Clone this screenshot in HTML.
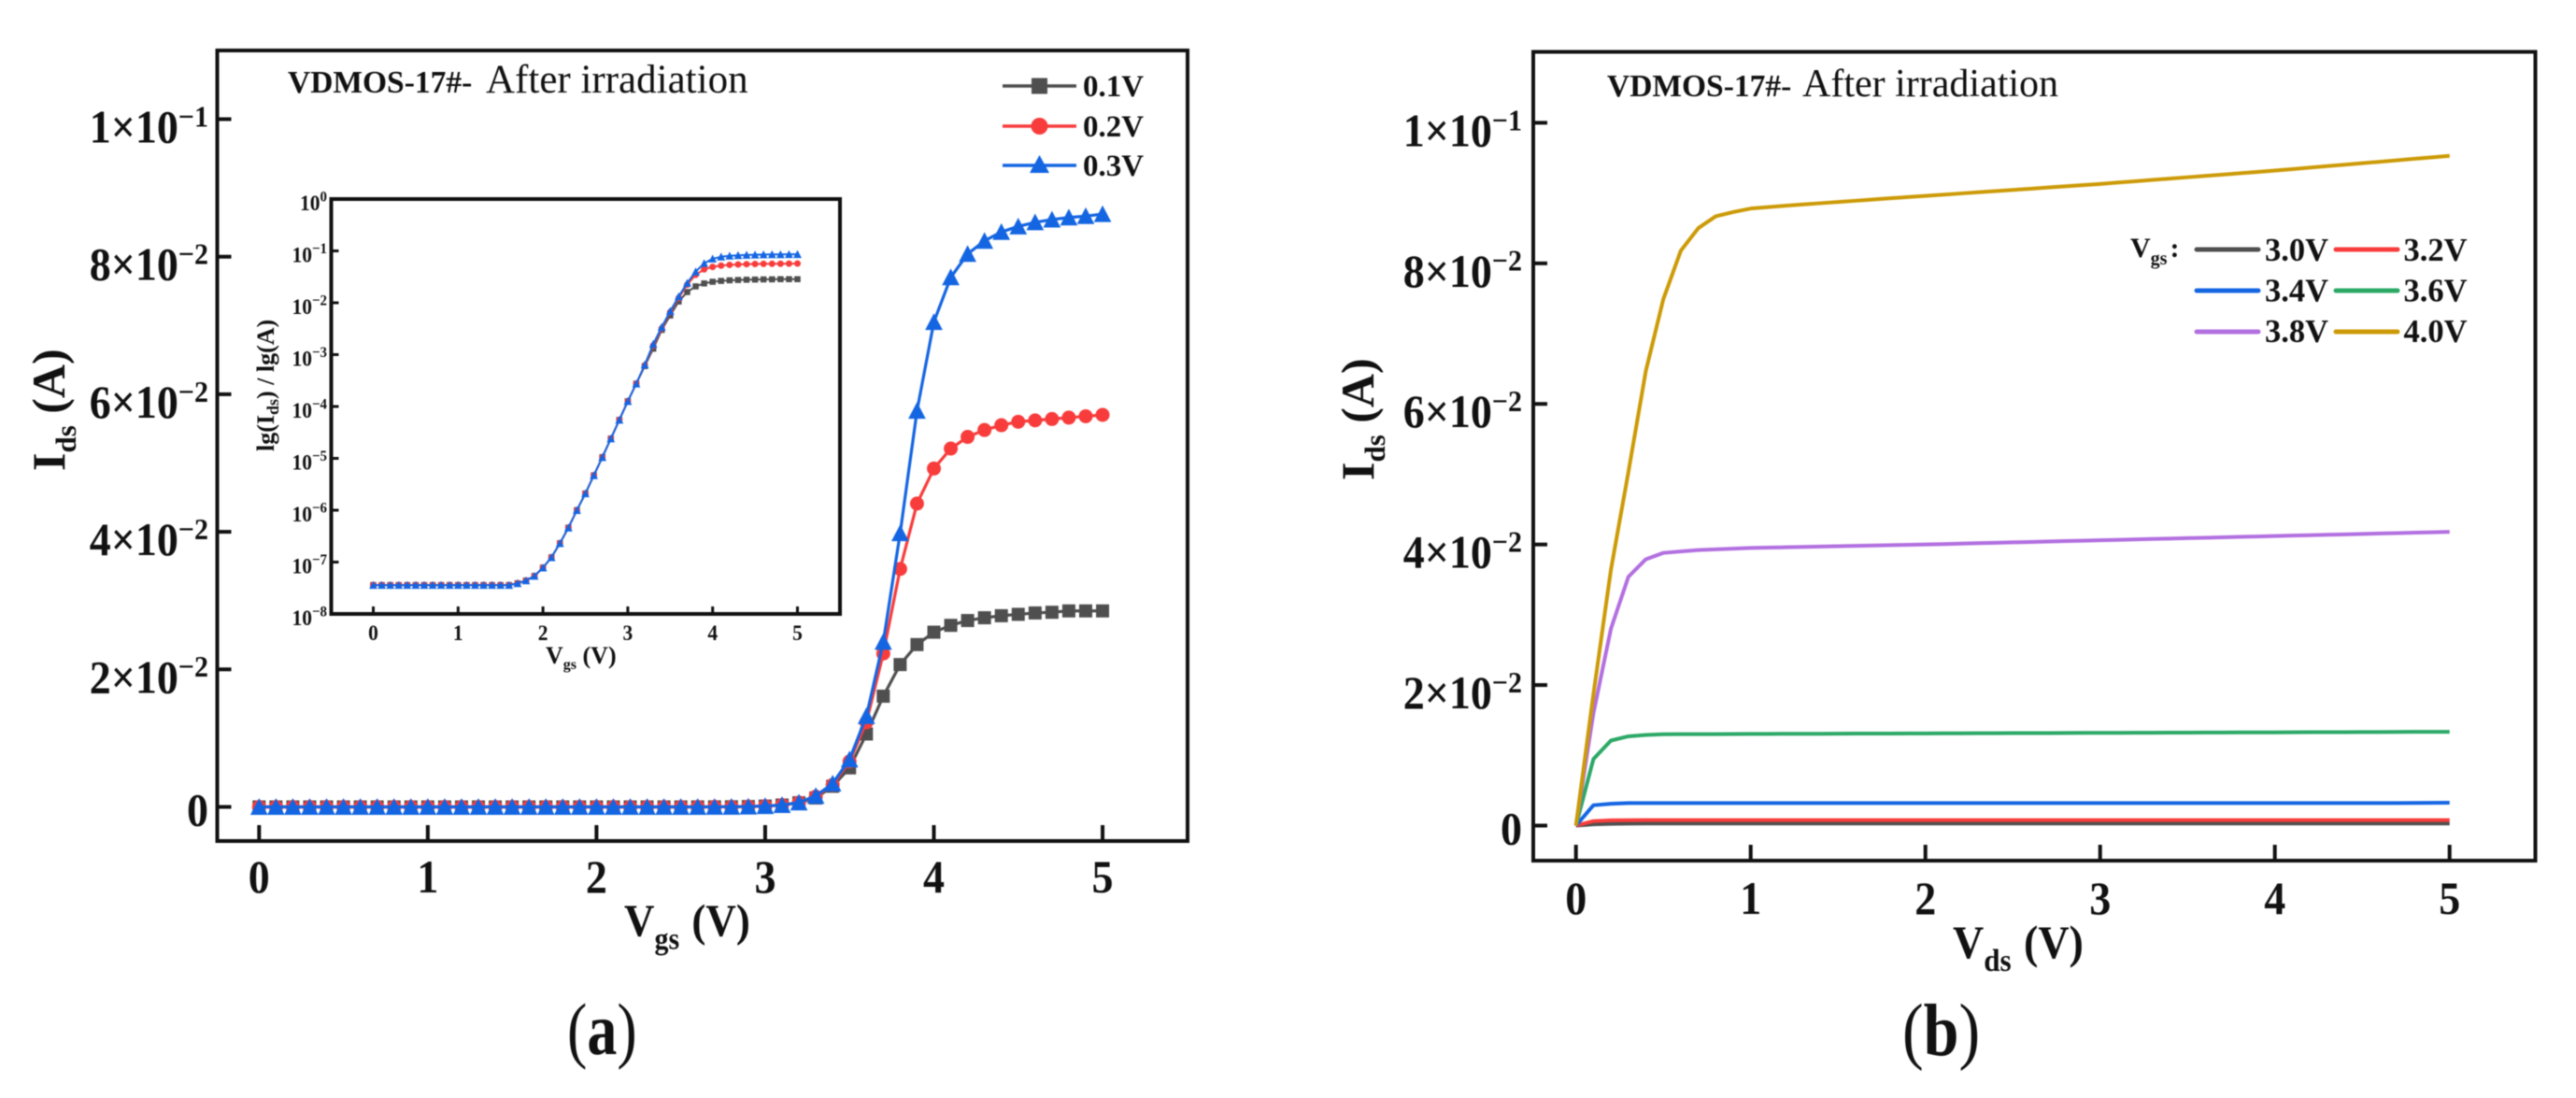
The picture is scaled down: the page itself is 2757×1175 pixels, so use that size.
<!DOCTYPE html>
<html lang="en">
<head>
<meta charset="utf-8">
<title>VDMOS-17# After irradiation</title>
<style>
html,body{margin:0;padding:0;background:#fff;width:2757px;height:1175px;overflow:hidden}
svg{display:block;filter:blur(0.6px)}
text{font-family:"Liberation Serif",serif;fill:#111}
.b{font-weight:bold}
</style>
</head>
<body>
<svg id="fig" xmlns="http://www.w3.org/2000/svg" width="2757" height="1175" viewBox="0 0 2757 1175">
  <rect x="0" y="0" width="2757" height="1175" fill="#fff"/>

  <g id="panelA">
    <rect x="232.5" y="54" width="1038.5" height="846" fill="none" stroke="#111" stroke-width="4"/>
    <text x="308" y="99"><tspan class="b" font-size="33.5">VDMOS-17#-</tspan><tspan x="520" font-size="43">After irradiation</tspan></text>
    <text class="b" transform="translate(668,1001.5) scale(1,1.08)" font-size="45">V<tspan font-size="30" dy="13">gs</tspan><tspan dy="-13" dx="2"> (V)</tspan></text>
    <text class="b" transform="translate(69,504) rotate(-90)" font-size="50">I<tspan font-size="31" dy="12">ds</tspan><tspan dy="-12"> (A)</tspan></text>
    <text transform="translate(607,1128) scale(1,1.22)" font-size="64">(<tspan class="b">a</tspan>)</text>
    <g id="axesA"></g>
    <g id="marksA"></g>
    <rect x="354.5" y="213" width="544.5" height="444" fill="#fff" stroke="#111" stroke-width="4"/>
    <g id="axesI"></g>
    <g id="marksI"></g>
    <text class="b" x="584" y="710" font-size="26">V<tspan font-size="16" dy="6">gs</tspan><tspan dy="-6"> (V)</tspan></text>
    <text class="b" transform="translate(293,483) rotate(-90)" font-size="26">lg(I<tspan font-size="18" dy="5">ds</tspan><tspan dy="-5">) / lg(A)</tspan></text>
    <g>
      <g>
        <line x1="1073" y1="92" x2="1152" y2="92" stroke="#4f4f4f" stroke-width="3.4"/>
        <rect x="1104" y="83.5" width="17" height="17" fill="#4f4f4f"/>
        <text class="b" x="1159" y="103" font-size="33">0.1V</text>
      </g>
      <g>
        <line x1="1073" y1="135" x2="1152" y2="135" stroke="#f83c3c" stroke-width="3.4"/>
        <circle cx="1112.5" cy="135" r="9" fill="#f83c3c"/>
        <text class="b" x="1159" y="146" font-size="33">0.2V</text>
      </g>
      <g>
        <line x1="1073" y1="177" x2="1152" y2="177" stroke="#1465e2" stroke-width="3.4"/>
        <polygon points="1112.5,166 1123,185 1102,185" fill="#1465e2"/>
        <text class="b" x="1159" y="188" font-size="33">0.3V</text>
      </g>
    </g>
  </g>

  <g id="panelB">
    <rect x="1641" y="55.5" width="1072.5" height="865.5" fill="none" stroke="#111" stroke-width="4"/>
    <text x="1720" y="103"><tspan class="b" font-size="33.5">VDMOS-17#-</tspan><tspan x="1929" font-size="42">After irradiation</tspan></text>
    <text class="b" transform="translate(2090,1025) scale(1,1.08)" font-size="46">V<tspan font-size="31" dy="13">ds</tspan><tspan dy="-13" dx="2"> (V)</tspan></text>
    <text class="b" transform="translate(1470,514) rotate(-90)" font-size="50">I<tspan font-size="31" dy="12">ds</tspan><tspan dy="-12"> (A)</tspan></text>
    <text transform="translate(2036,1129) scale(1,1.17)" font-size="68">(<tspan class="b">b</tspan>)</text>
    <g id="axesB"></g>
    <g id="marksB"></g>
    <g>
      <text class="b" x="2280" y="275" font-size="30">V<tspan font-size="20" dy="8">gs</tspan><tspan dy="-8" dx="3">:</tspan></text>
      <g><line x1="2351" y1="267" x2="2417" y2="267" stroke="#4f4f4f" stroke-width="5" stroke-linecap="round"/><text class="b" x="2424" y="279" font-size="34.5">3.0V</text></g>
      <g><line x1="2500" y1="267" x2="2566" y2="267" stroke="#f83c3c" stroke-width="5" stroke-linecap="round"/><text class="b" x="2572.5" y="279" font-size="34.5">3.2V</text></g>
      <g><line x1="2351" y1="311" x2="2417" y2="311" stroke="#1465e2" stroke-width="5" stroke-linecap="round"/><text class="b" x="2424" y="322.5" font-size="34.5">3.4V</text></g>
      <g><line x1="2500" y1="311" x2="2566" y2="311" stroke="#2ba866" stroke-width="5" stroke-linecap="round"/><text class="b" x="2572.5" y="322.5" font-size="34.5">3.6V</text></g>
      <g><line x1="2351" y1="355" x2="2417" y2="355" stroke="#b26fe0" stroke-width="5" stroke-linecap="round"/><text class="b" x="2424" y="366" font-size="34.5">3.8V</text></g>
      <g><line x1="2500" y1="355" x2="2566" y2="355" stroke="#cc9a06" stroke-width="5" stroke-linecap="round"/><text class="b" x="2572.5" y="366" font-size="34.5">4.0V</text></g>
    </g>
  </g>
</svg>

<script>
// ---------- Shared sweep (both panels sample 0..5 V in 0.1 V steps) ----------
const sweepVolts = [0,0.1,0.2,0.3,0.4,0.5,0.6,0.7,0.8,0.9,1,1.1,1.2,1.3,1.4,1.5,1.6,1.7,1.8,1.9,2,2.1,2.2,2.3,2.4,2.5,2.6,2.7,2.8,2.9,3,3.1,3.2,3.3,3.4,3.5,3.6,3.7,3.8,3.9,4,4.1,4.2,4.3,4.4,4.5,4.6,4.7,4.8,4.9,5];

// ---------- Panel (a) transfer curves: Ids (A) vs Vgs, also drawn log-scale in the inset ----------
const ids01V = [3.6e-8,3.6e-8,3.6e-8,3.6e-8,3.6e-8,3.6e-8,3.6e-8,3.6e-8,3.6e-8,3.6e-8,3.6e-8,3.6e-8,3.6e-8,3.6e-8,3.6e-8,3.6e-8,3.6e-8,3.9e-8,4.4e-8,5.4e-8,7.8e-8,1.23e-7,2.3e-7,4.6e-7,1.0e-6,2.1e-6,4.7e-6,1.05e-5,2.4e-5,5.5e-5,1.26e-4,2.75e-4,6.0e-4,1.3e-3,3.0e-3,0.00568,0.0106,0.0161,0.0207,0.0236,0.0254,0.0264,0.0271,0.0275,0.0278,0.0280,0.0282,0.0283,0.0285,0.0285,0.0285];
const ids02V = [3.6e-8,3.6e-8,3.6e-8,3.6e-8,3.6e-8,3.6e-8,3.6e-8,3.6e-8,3.6e-8,3.6e-8,3.6e-8,3.6e-8,3.6e-8,3.6e-8,3.6e-8,3.6e-8,3.6e-8,3.9e-8,4.4e-8,5.4e-8,7.8e-8,1.23e-7,2.3e-7,4.6e-7,1.0e-6,2.1e-6,4.7e-6,1.05e-5,2.4e-5,5.5e-5,1.26e-4,2.75e-4,6.2e-4,1.5e-3,3.2e-3,0.0066,0.0123,0.0223,0.0346,0.0441,0.0492,0.0521,0.0538,0.0548,0.0555,0.0560,0.0562,0.0564,0.0566,0.0568,0.0570];
const ids03V = [3.6e-8,3.6e-8,3.6e-8,3.6e-8,3.6e-8,3.6e-8,3.6e-8,3.6e-8,3.6e-8,3.6e-8,3.6e-8,3.6e-8,3.6e-8,3.6e-8,3.6e-8,3.6e-8,3.6e-8,3.9e-8,4.4e-8,5.4e-8,7.8e-8,1.23e-7,2.3e-7,4.6e-7,1.0e-6,2.1e-6,4.7e-6,1.05e-5,2.4e-5,5.5e-5,1.26e-4,2.75e-4,6.4e-4,1.6e-3,3.4e-3,0.0069,0.0132,0.0240,0.0398,0.0576,0.0705,0.0770,0.0804,0.0823,0.0836,0.0844,0.0850,0.0854,0.0857,0.0859,0.0862];

// ---------- Panel (b) output curves: Ids (A) vs Vds ----------
const ids30V = [0,0.00018,0.00025,0.00028,0.0003,0.0003,0.0003,0.0003,0.0003,0.0003,0.0003,0.0003,0.0003,0.0003,0.0003,0.0003,0.0003,0.0003,0.0003,0.0003,0.0003,0.0003,0.0003,0.0003,0.0003,0.0003,0.0003,0.0003,0.0003,0.0003,0.0003,0.0003,0.0003,0.0003,0.0003,0.0003,0.0003,0.0003,0.0003,0.0003,0.0003,0.0003,0.0003,0.0003,0.0003,0.0003,0.0003,0.0003,0.0003,0.0003,0.0003];
const ids32V = [0,0.00064,0.00074,0.00077,0.00078,0.00078,0.00078,0.00078,0.00078,0.00078,0.00078,0.00078,0.00078,0.00078,0.00078,0.00078,0.00078,0.00078,0.00078,0.00078,0.00078,0.00078,0.00078,0.00078,0.00078,0.00078,0.00078,0.00078,0.00078,0.00078,0.00078,0.00078,0.00078,0.00078,0.00078,0.00078,0.00078,0.00078,0.00078,0.00078,0.00078,0.00078,0.00078,0.00078,0.00078,0.00078,0.00078,0.00078,0.00078,0.00078,0.00078];
const ids34V = [0,0.0029,0.0031,0.0032,0.0032,0.0032,0.0032,0.0032,0.0032,0.0032,0.0032,0.0032,0.0032,0.0032,0.0032,0.0032,0.0032,0.0032,0.0032,0.0032,0.0032,0.0032,0.0032,0.0032,0.0032,0.0032,0.0032,0.0032,0.0032,0.0032,0.0032,0.0032,0.0032,0.0032,0.0032,0.0032,0.0032,0.0032,0.0032,0.0032,0.0032,0.0032,0.0032,0.0032,0.0032,0.0032,0.0032,0.0032,0.00323,0.00324,0.00325];
const ids36V = [0,0.00947,0.0121,0.0127,0.0129,0.01300,0.01301,0.01302,0.01302,0.01303,0.01304,0.01305,0.01306,0.01306,0.01307,0.01308,0.01309,0.01309,0.01310,0.01311,0.01312,0.01313,0.01313,0.01314,0.01315,0.01316,0.01316,0.01317,0.01318,0.01319,0.01320,0.01320,0.01321,0.01322,0.01323,0.01323,0.01324,0.01325,0.01326,0.01327,0.01327,0.01328,0.01329,0.01330,0.01330,0.01331,0.01332,0.01333,0.01334,0.01334,0.01335];
const ids38V = [0,0.0160,0.0280,0.0354,0.0379,0.0388,0.0390,0.0392,0.0393,0.0394,0.0395,0.03955,0.0396,0.03965,0.0397,0.03975,0.0398,0.03985,0.0399,0.03995,0.0400,0.04006,0.04012,0.04018,0.04024,0.0403,0.04036,0.04042,0.04048,0.04054,0.0406,0.04066,0.04072,0.04078,0.04084,0.0409,0.04096,0.04102,0.04108,0.04114,0.0412,0.04126,0.04132,0.04138,0.04144,0.0415,0.04156,0.04162,0.04168,0.04174,0.0418];
const ids40V = [0,0.0187,0.0364,0.0503,0.0647,0.0749,0.0818,0.0850,0.0867,0.0873,0.0878,0.0880,0.0882,0.08838,0.08856,0.08873,0.08891,0.08908,0.08926,0.08943,0.0896,0.08977,0.08994,0.09011,0.09028,0.09045,0.09062,0.09079,0.09096,0.09113,0.0913,0.09149,0.09168,0.09187,0.09206,0.09225,0.09244,0.09263,0.09282,0.09301,0.0932,0.09341,0.09362,0.09383,0.09404,0.09425,0.09446,0.09467,0.09488,0.09509,0.0953];

// ---------- Tick values and labels ----------
const xTickValues = [0,1,2,3,4,5];
const xTickLabels = ["0","1","2","3","4","5"];
const yTickValues = [0,0.02,0.04,0.06,0.08,0.1];
const yTickMantissas = ["0","2×10","4×10","6×10","8×10","1×10"];
const yTickExponents = ["","−2","−2","−2","−2","−1"];
const insetDecades = [0,-1,-2,-3,-4,-5,-6,-7,-8];
const insetDecadeLabels = ["0","−1","−2","−3","−4","−5","−6","−7","−8"];

// ---------- Axis functions ----------
function xA(v){return 277.3 + 180.55*v;}
function yA(i){return 863.5 - 7360*i;}
function xI(v){return 399.5 + 90.8*v;}
function yI(i){return 213 - 55.5*Math.log10(i);}
function yIDecade(d){return 213 - 55.5*d;}
function xB(v){return 1686.7 + 187*v;}
function yB(i){return 883.5 - 7521*i;}

const NS = 'http://www.w3.org/2000/svg';
function mk(tag,parent,attrs){
  const el = document.createElementNS(NS,tag);
  for(const k in attrs){el.setAttribute(k,attrs[k]);}
  parent.appendChild(el);
  return el;
}
function pathOf(xs,ys,fx,fy){
  return xs.map(function(x,i){return (i?'L':'M')+fx(x).toFixed(2)+' '+fy(ys[i]).toFixed(2);}).join(' ');
}
function stretchedLabel(parent,x,y,size,anchor,main,sup,supSize,raise){
  const t = mk('text',parent,{transform:'translate('+x+','+y+') scale(1,1.07)','text-anchor':anchor,'font-size':size,'font-weight':'bold'});
  const a = mk('tspan',t,{});
  a.textContent = main;
  if(sup){
    const b = mk('tspan',t,{'font-size':supSize,dy:-raise});
    b.textContent = sup;
  }
  return t;
}

// ---------- Axes, panel (a) and panel (b) ----------
function drawMainAxes(group,fx,fy,frameLeft,frameBottom,xLabelY,yLabelX,prefix){
  xTickValues.forEach(function(v,i){
    const tick = mk('line',group,{x1:fx(v),x2:fx(v),y1:frameBottom,y2:frameBottom-17,stroke:'#111','stroke-width':4});
    
    
    const lab = stretchedLabel(group,fx(v),xLabelY,46,'middle',xTickLabels[i],'',0,0);
    
    
  });
  yTickValues.forEach(function(v,i){
    const tick = mk('line',group,{x1:frameLeft,x2:frameLeft+15,y1:fy(v),y2:fy(v),stroke:'#111','stroke-width':4});
    
    
    const off = yTickExponents[i] ? 25 : 20;
    const lab = stretchedLabel(group,yLabelX,fy(v)+off,46,'end',yTickMantissas[i],yTickExponents[i],30,16);
    
    
  });
}
drawMainAxes(document.getElementById('axesA'),xA,yA,232.5,900,955,223,'panel-a');
drawMainAxes(document.getElementById('axesB'),xB,yB,1641,921,978,1629,'panel-b');

// ---------- Inset axes ----------
const axesI = document.getElementById('axesI');
xTickValues.forEach(function(v,i){
  const tick = mk('line',axesI,{x1:xI(v),x2:xI(v),y1:657,y2:649,stroke:'#111','stroke-width':3});
  
  
  const lab = stretchedLabel(axesI,xI(v),685,21.5,'middle',xTickLabels[i],'',0,0);
  
  
});
insetDecades.forEach(function(d,i){
  const tick = mk('line',axesI,{x1:354.5,x2:362.5,y1:yIDecade(d),y2:yIDecade(d),stroke:'#111','stroke-width':3});
  
  
  const lab = stretchedLabel(axesI,350,yIDecade(d)+12,21.5,'end','10',insetDecadeLabels[i],15,9);
  
  
});

// ---------- Marker drawing ----------
function marker(kind,parent,cx,cy,s,color){
  if(kind==='square'){return mk('rect',parent,{x:cx-s/2,y:cy-s/2,width:s,height:s,fill:color});}
  if(kind==='circle'){return mk('circle',parent,{cx:cx,cy:cy,r:s/2,fill:color});}
  const w = s*1.1, top = cy-s*0.55, bot = cy+s*0.5;
  return mk('polygon',parent,{points:cx+','+top+' '+(cx+w/2)+','+bot+' '+(cx-w/2)+','+bot,fill:color});
}
function drawSeries(group,fx,fy,ys,color,kind,size,lw,name){
  const line = mk('path',group,{d:pathOf(sweepVolts,ys,fx,fy),fill:'none',stroke:color,'stroke-width':lw,'stroke-linejoin':'round'});
  
  
  sweepVolts.forEach(function(v,i){
    const m = marker(kind,group,fx(v),fy(ys[i]),size,color);
    
    
  });
}

// Panel (a) main plot
const marksA = document.getElementById('marksA');
drawSeries(marksA,xA,yA,ids01V,'#4f4f4f','square',14,3.2,'series-0-1v');
drawSeries(marksA,xA,yA,ids02V,'#f83c3c','circle',15,3.2,'series-0-2v');
drawSeries(marksA,xA,yA,ids03V,'#1465e2','triangle',17,3.2,'series-0-3v');

// Inset
const marksI = document.getElementById('marksI');
drawSeries(marksI,xI,yI,ids01V,'#4f4f4f','square',6.5,2,'inset-0-1v');
drawSeries(marksI,xI,yI,ids02V,'#f83c3c','circle',7,2,'inset-0-2v');
drawSeries(marksI,xI,yI,ids03V,'#1465e2','triangle',8,2,'inset-0-3v');

// Panel (b)
const marksB = document.getElementById('marksB');
function drawCurve(ys,color,name){
  const p = mk('path',marksB,{d:pathOf(sweepVolts,ys,xB,yB),fill:'none',stroke:color,'stroke-width':4,'stroke-linejoin':'round'});
  
  
}
drawCurve(ids30V,'#4f4f4f','curve-3-0v');
drawCurve(ids32V,'#f83c3c','curve-3-2v');
drawCurve(ids34V,'#1465e2','curve-3-4v');
drawCurve(ids36V,'#2ba866','curve-3-6v');
drawCurve(ids38V,'#b26fe0','curve-3-8v');
drawCurve(ids40V,'#cc9a06','curve-4-0v');
</script>
</body>
</html>
